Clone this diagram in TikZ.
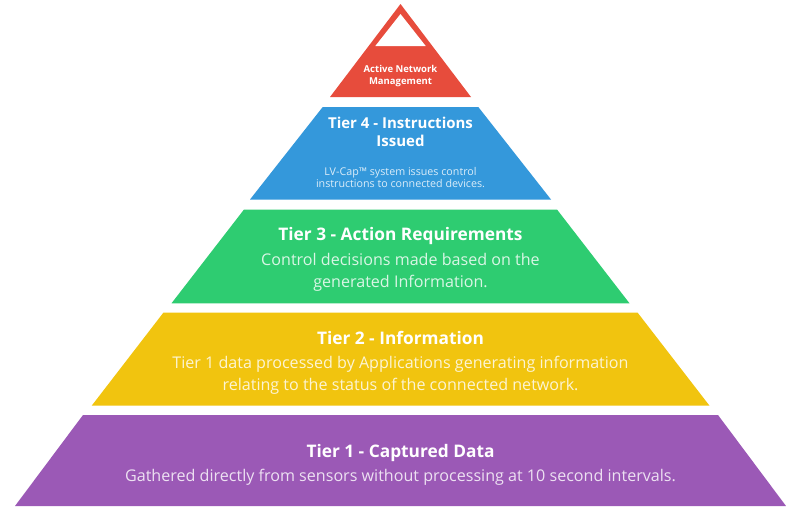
\documentclass[tikz,border=0pt]{standalone}
\usepackage{fontspec}
\setmainfont{Open Sans}
\definecolor{tred}{HTML}{E74C3C}
\definecolor{tblue}{HTML}{3498DB}
\definecolor{tgreen}{HTML}{2ECC71}
\definecolor{tyellow}{HTML}{F1C40F}
\definecolor{tpurple}{HTML}{9B59B6}
\begin{document}
\begin{tikzpicture}[x=1pt,y=-1pt,
  ttl/.style={anchor=base,inner sep=0pt,text=white,font=\fontsize{17.3}{20}\selectfont\bfseries},
  ttlsmall/.style={anchor=base,inner sep=0pt,text=white,font=\fontsize{15}{18}\selectfont\bfseries},
  ttltiny/.style={anchor=base,inner sep=0pt,text=white,font=\fontsize{9.5}{11}\selectfont\bfseries},
  dsc/.style={anchor=base,inner sep=0pt,text=white,text opacity=0.82,font=\fontsize{16.1}{19}\selectfont},
  dscsmall/.style={anchor=base,inner sep=0pt,text=white,text opacity=0.82,font=\fontsize{10.7}{12}\selectfont}]
\useasboundingbox (0,0) rectangle (786,506);
\fill[white] (0,0) rectangle (786,506);
% bands
\fill[tred] (400.5,4) -- (471,97) -- (330,97) -- cycle;
\fill[white] (400.5,14) -- (425.7,46) -- (375.3,46) -- cycle;
\fill[tblue] (322.7,107) -- (478.3,107) -- (551,199.5) -- (250,199.5) -- cycle;
\fill[tgreen] (244,209.5) -- (557,209.5) -- (629.5,303.3) -- (171.5,303.3) -- cycle;
\fill[tyellow] (163.5,312.5) -- (637.5,312.5) -- (709.5,405.7) -- (91.7,405.7) -- cycle;
\fill[tpurple] (83,415) -- (718,415) -- (786,506) -- (15,506) -- cycle;
% texts
\node[ttltiny] (t0a) at (400.5,72) {Active Network};
\node[ttltiny] (t0b) at (400.5,84.5) {Management};
\node[ttlsmall] (t4a) at (400.5,128) {Tier 4 - Instructions};
\node[ttlsmall] (t4b) at (400.5,146.7) {Issued};
\node[dscsmall] (t4c) at (400.5,175) {LV-Cap™ system issues control};
\node[dscsmall] (t4d) at (400.5,187.3) {instructions to connected devices.};
\node[ttl] (t3a) at (400.5,240.7) {Tier 3 - Action Requirements};
\node[dsc] (t3b) at (400.5,265) {Control decisions made based on the};
\node[dsc] (t3c) at (400.5,287) {generated Information.};
\node[ttl] (t2a) at (400.5,344) {Tier 2 - Information};
\node[dsc] (t2b) at (400.5,368) {Tier 1 data processed by Applications generating information};
\node[dsc] (t2c) at (400.5,390) {relating to the status of the connected network.};
\node[ttl] (t1a) at (400.5,457) {Tier 1 - Captured Data};
\node[dsc] (t1b) at (400.5,481) {Gathered directly from sensors without processing at 10 second intervals.};
\end{tikzpicture}
\end{document}
